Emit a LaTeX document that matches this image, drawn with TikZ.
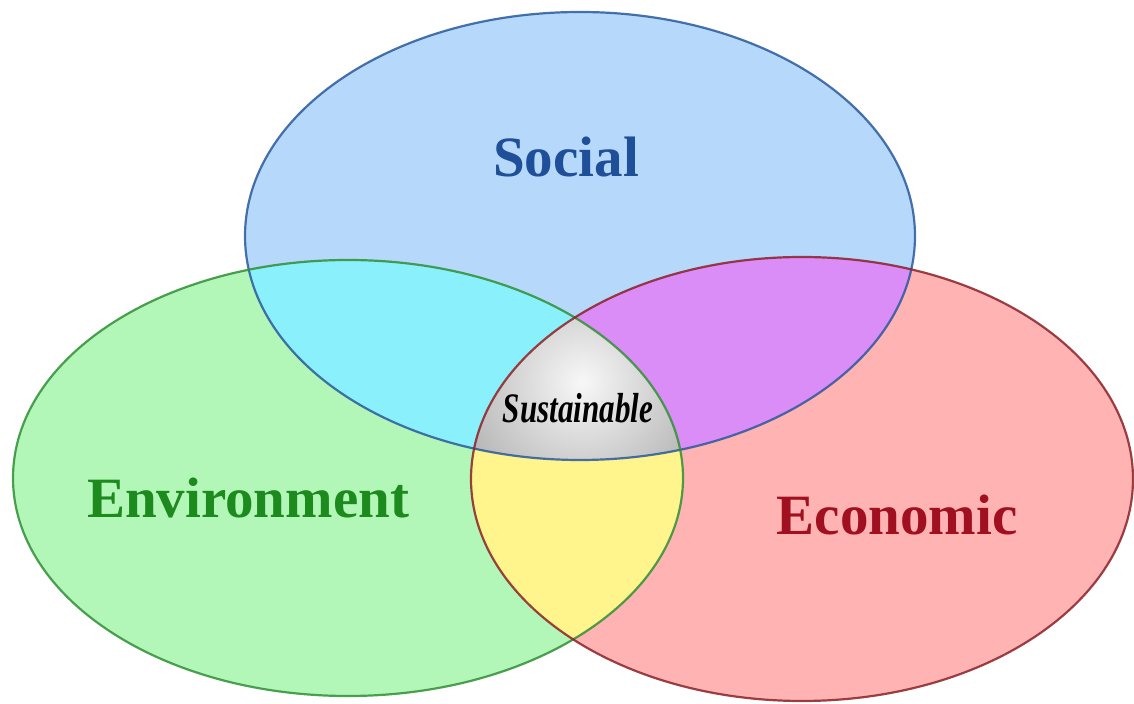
\documentclass[tikz,border=0pt]{standalone}
\usepackage{fontspec}
\setmainfont{Liberation Serif}
\definecolor{socfill}{HTML}{B5D8FB}
\definecolor{envfill}{HTML}{B3F7B8}
\definecolor{ecofill}{HTML}{FFB3B3}
\definecolor{secyan}{HTML}{8AF0FC}
\definecolor{seviolet}{HTML}{DA8CF7}
\definecolor{eeyellow}{HTML}{FFF58C}
\definecolor{socline}{HTML}{2A5A9C}
\definecolor{envline}{HTML}{2F8F35}
\definecolor{ecoline}{HTML}{8B2228}
\definecolor{soctext}{HTML}{1F4F99}
\definecolor{envtext}{HTML}{1C8A1C}
\definecolor{ecotext}{HTML}{A01020}
\begin{document}
\begin{tikzpicture}[x=0.5pt,y=-0.5pt,
  lbl/.style={font=\bfseries\fontsize{28.5}{30}\selectfont, inner sep=0pt},
  rim/.style={line width=1.1pt, draw opacity=0.85}]
\useasboundingbox (0,0) rectangle (1134,704);
\def\pSoc{(580,236) ellipse [x radius=167.5pt, y radius=112pt]}
\def\pEnv{(348,478) ellipse [x radius=167.5pt, y radius=109pt]}
\def\pEco{(802,479) ellipse [x radius=165.5pt, y radius=111pt]}
% base fills
\fill[socfill] \pSoc;
\fill[envfill] \pEnv;
\fill[ecofill] \pEco;
% pairwise overlaps
\begin{scope}
  \clip \pSoc;
  \fill[secyan] \pEnv;
  \fill[seviolet] \pEco;
\end{scope}
\begin{scope}
  \clip \pEnv;
  \fill[eeyellow] \pEco;
\end{scope}
% triple overlap
\begin{scope}
  \clip \pSoc;
  \clip \pEnv;
  \clip \pEco;
  \shade[inner color=white!97!black, outer color=black!33] (582,382) circle (75pt);
\end{scope}
% outlines
\draw[rim, socline] \pSoc;
\draw[rim, envline] \pEnv;
\draw[rim, ecoline] \pEco;
% labels
\node[lbl, text=soctext] (social) at (566,157) {Social};
\node[lbl, text=envtext] (env) at (248,498) {Environment};
\node[lbl, text=ecotext] (eco) at (897,515) {Economic};
\node[font=\bfseries\itshape\fontsize{21}{22}\selectfont, inner sep=0pt] (sust) at (578,408) {\scalebox{0.74}[1]{Sustainable}};
\end{tikzpicture}
\end{document}
